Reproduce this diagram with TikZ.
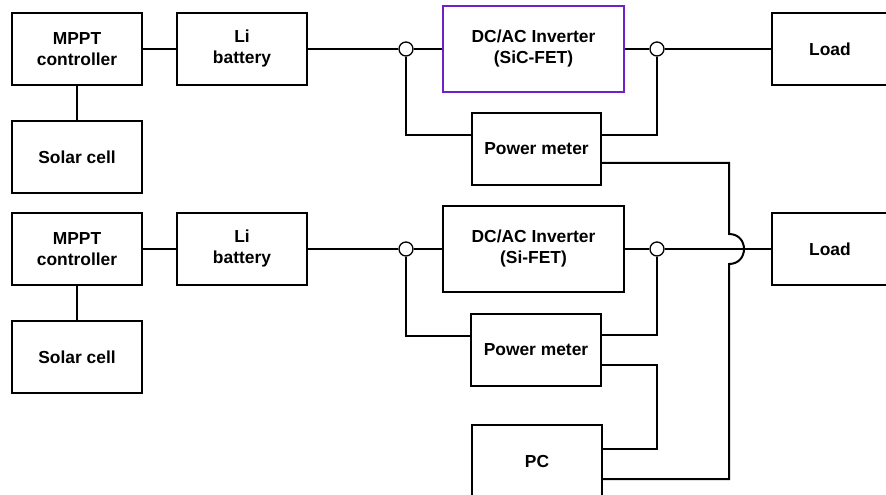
\documentclass[tikz,border=0pt]{standalone}
\usepackage{fontspec}
\setmainfont{Liberation Sans}
\begin{document}
\begin{tikzpicture}[x=1bp,y=-1bp,
  box/.style={draw=black,line width=1.3bp,rectangle,inner sep=0pt,align=center,
    minimum width=130bp,minimum height=72bp,
    font=\fontsize{17.4bp}{21bp}\selectfont\bfseries},
  invbox/.style={box,minimum width=181bp,minimum height=86bp},
  purplebox/.style={invbox,draw=invpurple,line width=1.8bp},
  junc/.style={draw=black,line width=1.3bp,circle,fill=white,inner sep=0pt,minimum size=14bp},
  wire/.style={line width=2bp,line join=miter}]
\definecolor{invpurple}{RGB}{112,32,200}
\useasboundingbox (0,0) rectangle (886,495);
\clip (0,0) rectangle (886,495);
% ---------- top system ----------
\node[box] (mppt1) at (77,49) {MPPT\\controller};
\node[box] (li1) at (242,49) {Li\\battery};
\node[box] (solar1) at (77,157) {Solar cell};
\node[purplebox] (inv1) at (533.5,49) {DC/AC Inverter\\(SiC-FET)};
\node[box,minimum width=129bp] (pm1) at (536.5,149) {Power meter};
\node[box,minimum width=116bp] (load1) at (830,49) {Load};
\node[junc] (j1a) at (406,49) {};
\node[junc] (j1b) at (657,49) {};
% ---------- bottom system ----------
\node[box] (mppt2) at (77,249) {MPPT\\controller};
\node[box] (li2) at (242,249) {Li\\battery};
\node[box] (solar2) at (77,357) {Solar cell};
\node[invbox] (inv2) at (533.5,249) {DC/AC Inverter\\(Si-FET)};
\node[box] (pm2) at (536,350) {Power meter};
\node[box,minimum width=116bp] (load2) at (830,249) {Load};
\node[junc] (j2a) at (406,249) {};
\node[junc] (j2b) at (657,249) {};
\node[box,minimum height=74bp] (pc) at (537,462) {PC};
% ---------- wires top ----------
\draw[wire] (mppt1.east) -- (li1.west);
\draw[wire] (mppt1.south) -- (solar1.north);
\draw[wire] (li1.east) -- (j1a);
\draw[wire] (j1a) -- (inv1.west);
\draw[wire] (inv1.east) -- (j1b);
\draw[wire] (j1b) -- (load1.west);
\draw[wire] (j1a.south) |- ([yshift=14bp]pm1.west);
\draw[wire] (j1b.south) |- ([yshift=14bp]pm1.east);
% ---------- wires bottom ----------
\draw[wire] (mppt2.east) -- (li2.west);
\draw[wire] (mppt2.south) -- (solar2.north);
\draw[wire] (li2.east) -- (j2a);
\draw[wire] (j2a) -- (inv2.west);
\draw[wire] (inv2.east) -- (j2b);
\draw[wire] (j2b) -- (load2.west);
\draw[wire] (j2a.south) |- ([yshift=14bp]pm2.west);
\draw[wire] (j2b.south) |- ([yshift=15bp]pm2.east);
% ---------- data lines ----------
\coordinate (pm2o) at ([yshift=-15bp]pm2.east);
\coordinate (pc1) at ([yshift=13bp]pc.east);
\coordinate (pc2) at ([yshift=-17bp]pc.east);
\coordinate (pm1o) at ([yshift=-14bp]pm1.east);
\coordinate (hopT) at (729,234);
\coordinate (hopB) at (729,264);
\draw[wire] (pm2o) -| (pc1 -| j2b) -- (pc1);
\draw[wire] (pm1o) -| (hopT) .. controls (749,234) and (749,264) .. (hopB) |- (pc2);
\end{tikzpicture}
\end{document}
